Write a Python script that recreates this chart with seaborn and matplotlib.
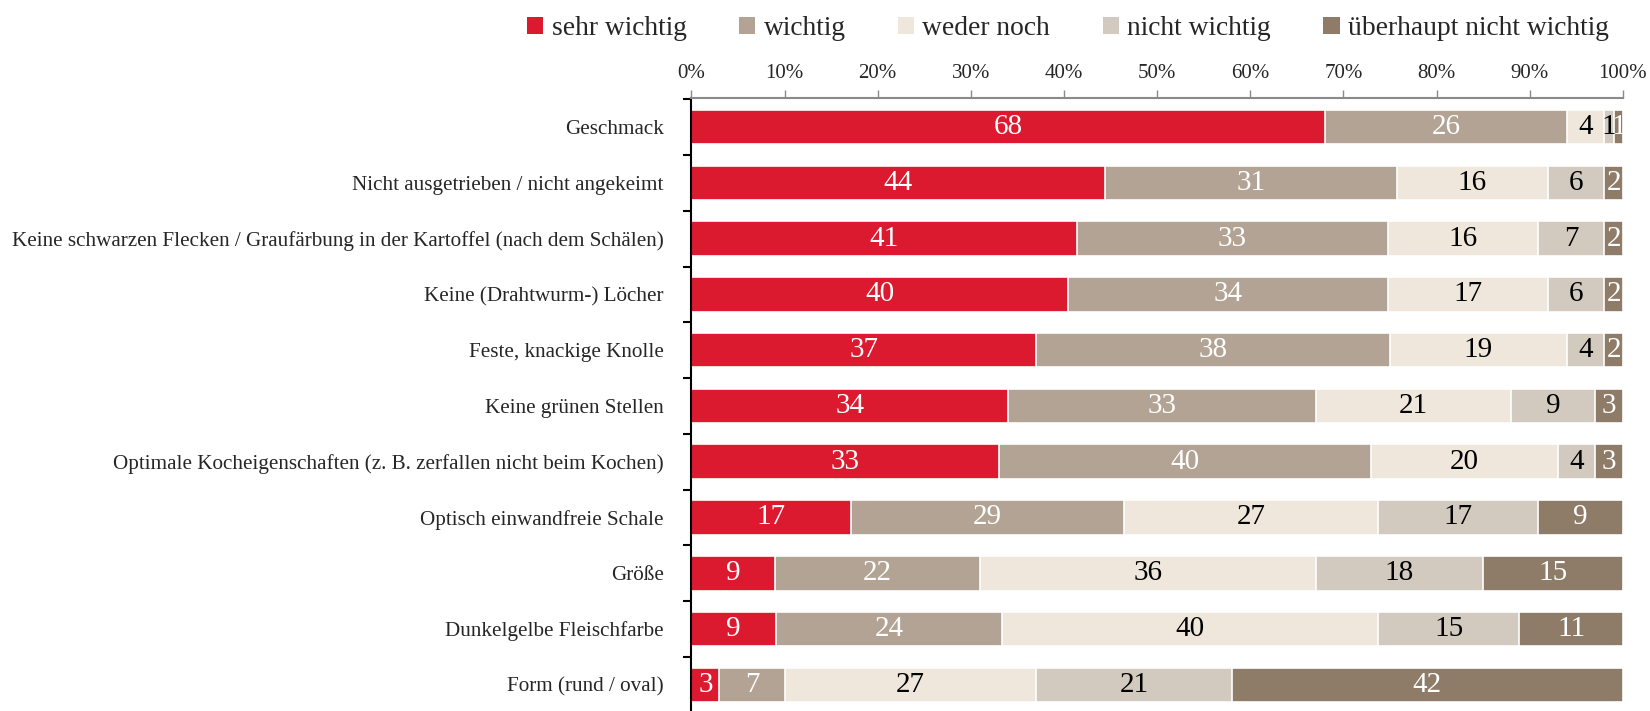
import numpy as np
import pandas as pd
import seaborn as sns
import matplotlib.pyplot as plt
from matplotlib.patches import Patch
import matplotlib.ticker as ticker

categories = [
    'Geschmack',
    'Nicht ausgetrieben / nicht angekeimt',
    'Keine schwarzen Flecken / Graufärbung in der Kartoffel (nach dem Schälen)',
    'Keine (Drahtwurm-) Löcher',
    'Feste, knackige Knolle',
    'Keine grünen Stellen',
    'Optimale Kocheigenschaften (z. B. zerfallen nicht beim Kochen)',
    'Optisch einwandfreie Schale',
    'Größe',
    'Dunkelgelbe Fleischfarbe',
    'Form (rund / oval)',
]
levels = ['sehr wichtig', 'wichtig', 'weder noch', 'nicht wichtig', 'überhaupt nicht wichtig']

sehr_wichtig = [68, 44, 41, 40, 37, 34, 33, 17, 9, 9, 3]
wichtig = [26, 31, 33, 34, 38, 33, 40, 29, 22, 24, 7]
weder_noch = [4, 16, 16, 17, 19, 21, 20, 27, 36, 40, 27]
nicht_wichtig = [1, 6, 7, 6, 4, 9, 4, 17, 18, 15, 21]
ueberhaupt_nicht = [1, 2, 2, 2, 2, 3, 3, 9, 15, 11, 42]

colors = ['#DC1A2F', '#B3A394', '#EFE7DC', '#D2C9BF', '#8E7B68']
text_colors = ['white', 'white', 'black', 'black', 'white']

sns.set_theme(style='white')
plt.rcParams['font.family'] = ['Liberation Serif', 'DejaVu Serif']

vals = np.array([sehr_wichtig, wichtig, weder_noch, nicht_wichtig, ueberhaupt_nicht], dtype=float).T
shares = vals / vals.sum(axis=1, keepdims=True) * 100
cum = np.cumsum(shares, axis=1)

df = pd.DataFrame(cum, columns=levels)
df['Kategorie'] = categories

fig = plt.figure(figsize=(16.5, 7.11), dpi=100)
ax = fig.add_axes([0.419, 0.0, 0.5646, 0.862])

# overlay cumulative bars, widest first
for i in range(len(levels) - 1, -1, -1):
    sns.barplot(data=df, x=levels[i], y='Kategorie', order=categories, orient='y',
                color=colors[i], saturation=1, width=0.62, edgecolor='white',
                linewidth=1.2, ax=ax)

for r in range(len(categories)):
    start = 0
    for i in range(len(levels)):
        mid = start + shares[r, i] / 2
        ax.text(mid, r, f'{int(vals[r, i])}', ha='center', va='center',
                fontsize=21, color=text_colors[i])
        start = cum[r, i]

ax.set_xlim(0, 100)
ax.set_ylim(10.47, -0.52)
ax.set_xlabel('')
ax.set_ylabel('')

ax.xaxis.tick_top()
ax.xaxis.set_major_locator(ticker.MultipleLocator(10))
ax.xaxis.set_major_formatter(ticker.FuncFormatter(lambda v, p: f'{int(v)}%'))
ax.tick_params(axis='x', which='major', top=True, length=6, width=1, color='#8a8a8a',
               labelsize=15, pad=5)

ax.set_yticks(range(len(categories)))
ax.set_yticklabels(categories)
ax.yaxis.set_minor_locator(ticker.FixedLocator(np.arange(-0.5, len(categories), 1)))
ax.tick_params(axis='y', which='major', left=False, labelsize=15.2, pad=14)
ax.tick_params(axis='y', which='minor', left=True, length=6, width=1.5, color='black')

for s in ['right', 'bottom']:
    ax.spines[s].set_visible(False)
ax.spines['top'].set_color('#8a8a8a')
ax.spines['top'].set_linewidth(1.5)
ax.spines['left'].set_color('black')
ax.spines['left'].set_linewidth(1.5)

handles = [Patch(facecolor=c, edgecolor='none') for c in colors]
fig.legend(handles, levels, loc='upper right', bbox_to_anchor=(0.99, 1.012), ncol=5,
           frameon=False, fontsize=19.8, handlelength=0.6, handleheight=0.6,
           handletextpad=0.3, columnspacing=1.9)

fig.savefig('out.png', dpi=100)
